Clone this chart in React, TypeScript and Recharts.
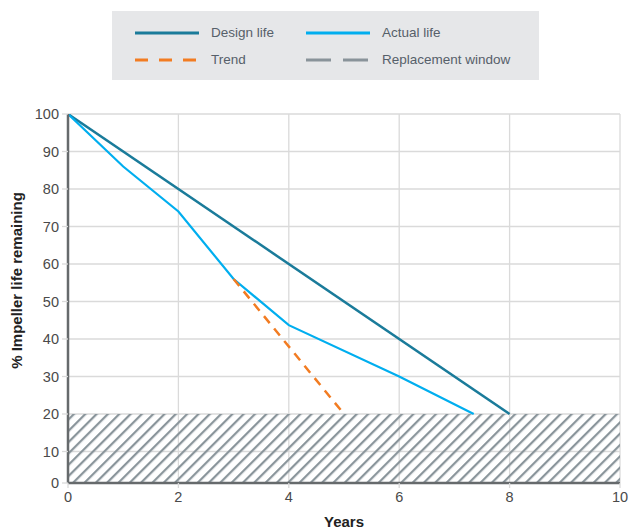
import React from "react";
import {
  LineChart,
  Line,
  XAxis,
  YAxis,
  CartesianGrid,
  ReferenceArea,
  Label,
} from "recharts";

// Data
const designLife = [
  { x: 0, y: 100 },
  { x: 8, y: 20 },
];
const actualLife = [
  { x: 0, y: 100 },
  { x: 1, y: 86 },
  { x: 2, y: 74 },
  { x: 3, y: 56 },
  { x: 4, y: 43.7 },
  { x: 6, y: 30 },
  { x: 7.35, y: 20 },
];
const trend = [
  { x: 3, y: 56 },
  { x: 5, y: 20 },
];
const replacementWindow = { x1: 0, x2: 10, y1: 0, y2: 20 };
const xTicks = [0, 2, 4, 6, 8, 10];
const yTicks = [0, 10, 20, 30, 40, 50, 60, 70, 80, 90, 100];
const Y_MIN = 1.6; // the reference's baseline sits slightly above 0
const legendItems = [
  { name: "Design life", color: "#1a7b9a", dash: "" },
  { name: "Actual life", color: "#00aeef", dash: "" },
  { name: "Trend", color: "#f27c22", dash: "13 11" },
  { name: "Replacement window", color: "#89939a", dash: "25 12" },
];

const FONT = "'Liberation Sans', Arial, Helvetica, sans-serif";

const Legend = () => (
  <div
    style={{
      position: "absolute",
      left: 112,
      top: 11,
      width: 427,
      height: 69,
      background: "#e6e7e9",
    }}
  >
    {legendItems.map((it, i) => {
      const col = i % 2;
      const row = Math.floor(i / 2);
      const lx = 23 + col * 171;
      const ly = 22 + row * 27;
      return (
        <div key={it.name}>
          <svg
            style={{ position: "absolute", left: lx, top: ly - 3 }}
            width={66}
            height={6}
          >
            <line
              x1={0}
              y1={3}
              x2={64}
              y2={3}
              stroke={it.color}
              strokeWidth={3}
              strokeDasharray={it.dash || undefined}
            />
          </svg>
          <div
            style={{
              position: "absolute",
              left: lx + 76,
              top: ly - 9,
              fontFamily: FONT,
              fontSize: 13.5,
              color: "#56606a",
              lineHeight: "18px",
              whiteSpace: "nowrap",
            }}
          >
            {it.name}
          </div>
        </div>
      );
    })}
  </div>
);

export default function App() {
  const yTicksAdj = yTicks.map((t) => (t === 0 ? Y_MIN : t));
  return (
    <div
      style={{
        position: "absolute",
        left: 0,
        top: 0,
        width: 629,
        height: 532,
        background: "#ffffff",
        fontFamily: FONT,
      }}
    >
      <Legend />
      <LineChart
        width={629}
        height={532}
        margin={{ top: 114, right: 9, bottom: 9, left: 8 }}
        style={{ position: "absolute", left: 0, top: 0 }}
      >
        <defs>
          <pattern
            id="hatch"
            patternUnits="userSpaceOnUse"
            width={8}
            height={8}
            patternTransform="rotate(45)"
          >
            <line x1={0} y1={0} x2={0} y2={8} stroke="#8a959b" strokeWidth={4.5} />
          </pattern>
        </defs>
        <CartesianGrid
          stroke="#dadada"
          strokeWidth={1.3}
          horizontalValues={yTicksAdj}
          verticalValues={xTicks}
        />
        <ReferenceArea
          x1={replacementWindow.x1}
          x2={replacementWindow.x2}
          y1={Y_MIN}
          y2={replacementWindow.y2}
          fill="url(#hatch)"
          fillOpacity={1}
          stroke="none"
          ifOverflow="visible"
        />
        <XAxis
          type="number"
          dataKey="x"
          domain={[0, 10]}
          ticks={xTicks}
          height={40}
          axisLine={{ stroke: "#666a6c", strokeWidth: 2.5 }}
          tickLine={{ stroke: "#dadada", strokeWidth: 1.3 }}
          tickSize={5}
          tickMargin={4}
          tick={{ fill: "#4a4a4a", fontSize: 14.5, fontFamily: FONT }}
          allowDataOverflow
        >
          <Label
            value="Years"
            position="insideBottom"
            offset={0}
            dy={4}
            style={{ fontSize: 15, fontWeight: "bold", fill: "#222", fontFamily: FONT }}
          />
        </XAxis>
        <YAxis
          type="number"
          domain={[Y_MIN, 100]}
          ticks={yTicksAdj}
          width={60}
          axisLine={{ stroke: "#666a6c", strokeWidth: 2.5 }}
          tickLine={{ stroke: "#dadada", strokeWidth: 1.3 }}
          tickSize={6}
          tickMargin={3}
          tickFormatter={(v: number) => (v < 5 ? "0" : String(v))}
          tick={{ fill: "#4a4a4a", fontSize: 14.5, fontFamily: FONT }}
          allowDataOverflow
        >
          <Label
            value="% Impeller life remaining"
            angle={-90}
            position="center"
            dx={-21}
            dy={-18}
            style={{ fontSize: 15, fontWeight: "bold", fill: "#222", fontFamily: FONT, textAnchor: "middle" }}
          />
        </YAxis>
        <Line
          data={designLife}
          dataKey="y"
          type="linear"
          stroke="#1a7b9a"
          strokeWidth={2.5}
          dot={false}
          isAnimationActive={false}
        />
        <Line
          data={actualLife}
          dataKey="y"
          type="linear"
          stroke="#00aeef"
          strokeWidth={2.2}
          dot={false}
          isAnimationActive={false}
        />
        <Line
          data={trend}
          dataKey="y"
          type="linear"
          stroke="#f27c22"
          strokeWidth={2.5}
          strokeDasharray="9 7"
          dot={false}
          isAnimationActive={false}
        />
      </LineChart>
    </div>
  );
}
